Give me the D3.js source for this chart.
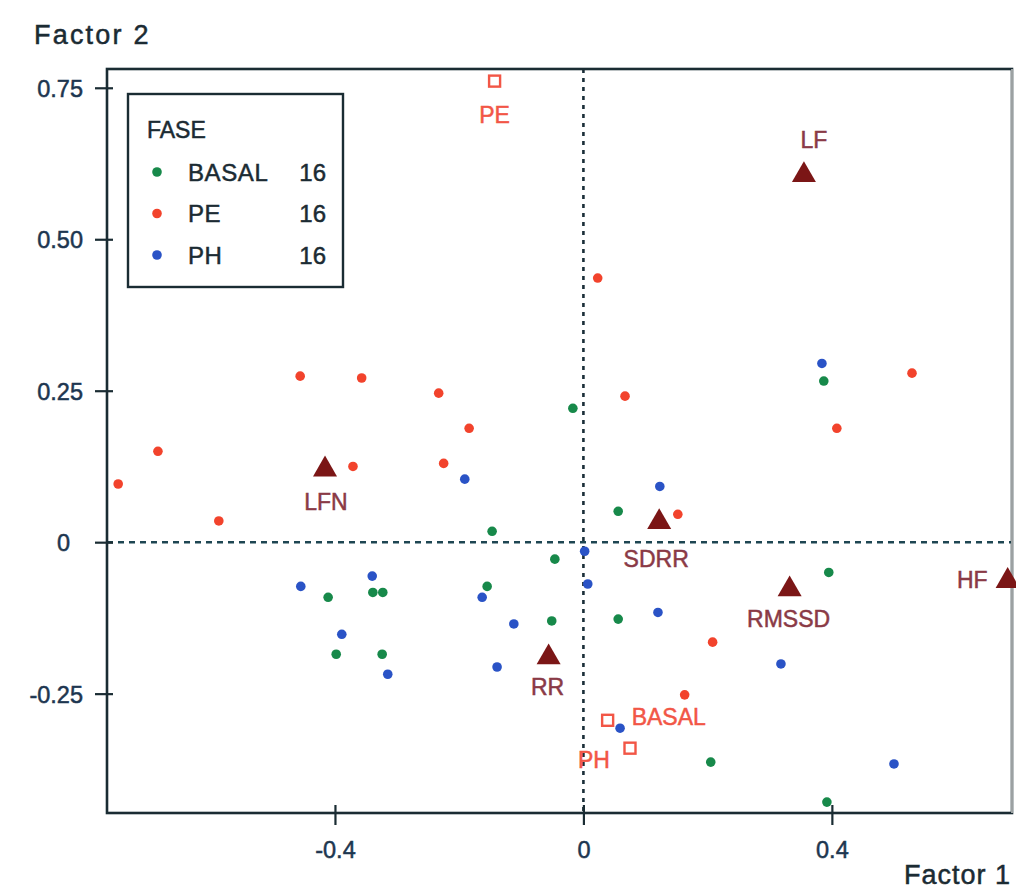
<!DOCTYPE html>
<html><head><meta charset="utf-8">
<script src="https://cdn.jsdelivr.net/npm/d3@7"></script>
<style>body{margin:0;background:#fff} svg{display:block} text{paint-order:stroke}</style>
</head><body>
<svg id="c" width="1016" height="893"></svg>
<script>
// ---------- data ----------
const basalPoints = [[-0.017,0.221],[0.387,0.266],[0.056,0.051],[-0.147,0.018],[-0.046,-0.028],[-0.155,-0.073],[-0.411,-0.091],[-0.339,-0.083],[-0.323,-0.083],[-0.398,-0.185],[-0.324,-0.185],[-0.051,-0.130],[0.056,-0.127],[0.395,-0.050],[0.205,-0.363],[0.392,-0.429]];
const pePoints = [[-0.749,0.096],[-0.685,0.150],[-0.587,0.035],[-0.456,0.274],[-0.357,0.271],[-0.371,0.125],[-0.233,0.246],[-0.184,0.188],[-0.225,0.130],[0.023,0.436],[0.067,0.241],[0.152,0.046],[0.529,0.279],[0.408,0.188],[0.208,-0.165],[0.163,-0.252]];
const phPoints = [[0.384,0.295],[-0.191,0.104],[0.123,0.092],[0.002,-0.015],[-0.455,-0.073],[-0.340,-0.056],[-0.389,-0.152],[-0.315,-0.218],[-0.163,-0.091],[-0.112,-0.135],[-0.139,-0.206],[0.007,-0.069],[0.120,-0.116],[0.318,-0.201],[0.059,-0.307],[0.500,-0.366]];
const variableNames = ["LF","LFN","SDRR","RMSSD","HF","RR"];
const variableX = [0.355,-0.416,0.122,0.332,0.683,-0.056];
const variableY = [0.606,0.120,0.033,-0.078,-0.064,-0.190];
const phaseNames = ["PE","BASAL","PH"];
const phaseX = [-0.143,0.039,0.075];
const phaseY = [0.761,-0.294,-0.340];
const legendNames = ["BASAL","PE","PH"];
const legendCounts = [16,16,16];
const xTickValues = [-0.4,0,0.4];
const xTickLabels = ["-0.4","0","0.4"];
const yTickValues = [-0.25,0,0.25,0.5,0.75];
const yTickLabels = ["-0.25","0","0.25","0.50","0.75"];

// ---------- style ----------
const colors = {BASAL:"#17894a", PE:"#f2432c", PH:"#2a53c6"};
const triColor = "#7b1616", varLabelColor = "#8a3a46", phaseColor = "#f25646";
const axisColor = "#1a2c33", tickTextColor = "#1d3650";
const font = "'Liberation Sans', Arial, sans-serif";
// label placement relative to marker: [dx, dy, anchor]
const varLabelPos = {LF:[10,-27,"middle"], LFN:[1,41,"middle"], SDRR:[-3,45,"middle"], RMSSD:[-1,38,"middle"], HF:[-20,7,"end"], RR:[-1,38,"middle"]};
const phaseLabelPos = {PE:[0,42,"middle"], BASAL:[24,5,"start"], PH:[-36,20,"middle"]};

const svg = d3.select("#c");
const L=107, R=1012, T=69, B=813;
const x = d3.scaleLinear([-0.767,0.690],[L,R]);
const y = d3.scaleLinear([-0.447,0.781],[B,T]);

function heavy(sel, color){
  return sel.attr("fill",color).attr("stroke",color).attr("stroke-width",0.5).style("font-family",font);
}

// zero reference lines
svg.append("line").attr("x1",L).attr("x2",R).attr("y1",y(0)).attr("y2",y(0))
  .attr("stroke","#1e4652").attr("stroke-width",2.6).attr("stroke-dasharray","6,5");
svg.append("line").attr("x1",x(0)).attr("x2",x(0)).attr("y1",T).attr("y2",B)
  .attr("stroke","#1a2e38").attr("stroke-width",2.6).attr("stroke-dasharray","4,5");

// frame
svg.append("rect").attr("x",L).attr("y",T).attr("width",R-L).attr("height",B-T)
  .attr("fill","none").attr("stroke",axisColor).attr("stroke-width",2.6);
svg.append("line").attr("x1",R).attr("x2",R).attr("y1",T).attr("y2",B)
  .attr("stroke","#c9c9c9").attr("stroke-width",1.5);

// axes
const yAxis = svg.append("g").attr("transform",`translate(${L},0)`)
  .call(d3.axisLeft(y).tickValues(yTickValues).tickFormat((d,i)=>yTickLabels[i]).tickSizeOuter(0));
yAxis.select(".domain").remove();
yAxis.selectAll(".tick line").attr("x1",6).attr("x2",-12).attr("stroke",axisColor).attr("stroke-width",2.2);
heavy(yAxis.selectAll(".tick text").attr("x",d=>d===0?-37:-24).attr("dy","0.36em"), tickTextColor)
  .style("font-size","23.5px");

const xAxis = svg.append("g").attr("transform",`translate(0,${B})`)
  .call(d3.axisBottom(x).tickValues(xTickValues).tickFormat((d,i)=>xTickLabels[i]).tickSizeOuter(0));
xAxis.select(".domain").remove();
xAxis.selectAll(".tick line").attr("y1",-8).attr("y2",12).attr("stroke",axisColor).attr("stroke-width",2.2);
heavy(xAxis.selectAll(".tick text").attr("y",45).attr("dy",0), tickTextColor)
  .style("font-size","23.5px");

// axis titles
heavy(svg.append("text").attr("x",34).attr("y",44).text("Factor 2"), "#1b2b33")
  .style("font-size","27px").style("letter-spacing","2.2px");
heavy(svg.append("text").attr("x",1011).attr("y",884).attr("text-anchor","end").text("Factor 1"), "#1b2b33")
  .style("font-size","27px").style("letter-spacing","1px");

// observation points
const series = [["BASAL",basalPoints],["PE",pePoints],["PH",phPoints]];
series.forEach(([name,pts])=>{
  svg.append("g").selectAll("circle").data(pts).join("circle")
    .attr("cx",d=>x(d[0])).attr("cy",d=>y(d[1])).attr("r",4.8).attr("fill",colors[name]);
});

// variable triangles
const tri = d3.symbol().type(d3.symbolTriangle).size(250);
const vars = variableNames.map((n,i)=>({n, x:variableX[i], y:variableY[i]}));
svg.append("g").selectAll("path").data(vars).join("path")
  .attr("d",tri).attr("transform",d=>`translate(${x(d.x)},${y(d.y)})`).attr("fill",triColor);
heavy(svg.append("g").selectAll("text").data(vars).join("text")
  .attr("x",d=>x(d.x)+varLabelPos[d.n][0]).attr("y",d=>y(d.y)+varLabelPos[d.n][1])
  .attr("text-anchor",d=>varLabelPos[d.n][2]).text(d=>d.n), varLabelColor)
  .style("font-size","23px");

// phase centroids (open squares)
const phases = phaseNames.map((n,i)=>({n, x:phaseX[i], y:phaseY[i]}));
svg.append("g").selectAll("rect").data(phases).join("rect")
  .attr("x",d=>x(d.x)-5.5).attr("y",d=>y(d.y)-5.5).attr("width",11).attr("height",11)
  .attr("fill","none").attr("stroke",phaseColor).attr("stroke-width",2.4);
heavy(svg.append("g").selectAll("text").data(phases).join("text")
  .attr("x",d=>x(d.x)+phaseLabelPos[d.n][0]).attr("y",d=>y(d.y)+phaseLabelPos[d.n][1])
  .attr("text-anchor",d=>phaseLabelPos[d.n][2]).text(d=>d.n), phaseColor)
  .style("font-size","23px");

// legend
const lg = svg.append("g");
lg.append("rect").attr("x",128).attr("y",94).attr("width",215).attr("height",193)
  .attr("fill","#fff").attr("stroke",axisColor).attr("stroke-width",2.4);
heavy(lg.append("text").attr("x",147).attr("y",138).text("FASE"), "#1b2b33")
  .style("font-size","23px");
legendNames.forEach((n,i)=>{
  const cy = 172 + i*41.5;
  lg.append("circle").attr("cx",157).attr("cy",cy).attr("r",4.8).attr("fill",colors[n]);
  heavy(lg.append("text").attr("x",188).attr("y",cy+8.5).text(n), "#1b2b33")
    .style("font-size","24px").style("letter-spacing","0.6px");
  heavy(lg.append("text").attr("x",326).attr("y",cy+8.5).attr("text-anchor","end").text(legendCounts[i]), "#1b2b33")
    .style("font-size","24px");
});
</script>
</body></html>
